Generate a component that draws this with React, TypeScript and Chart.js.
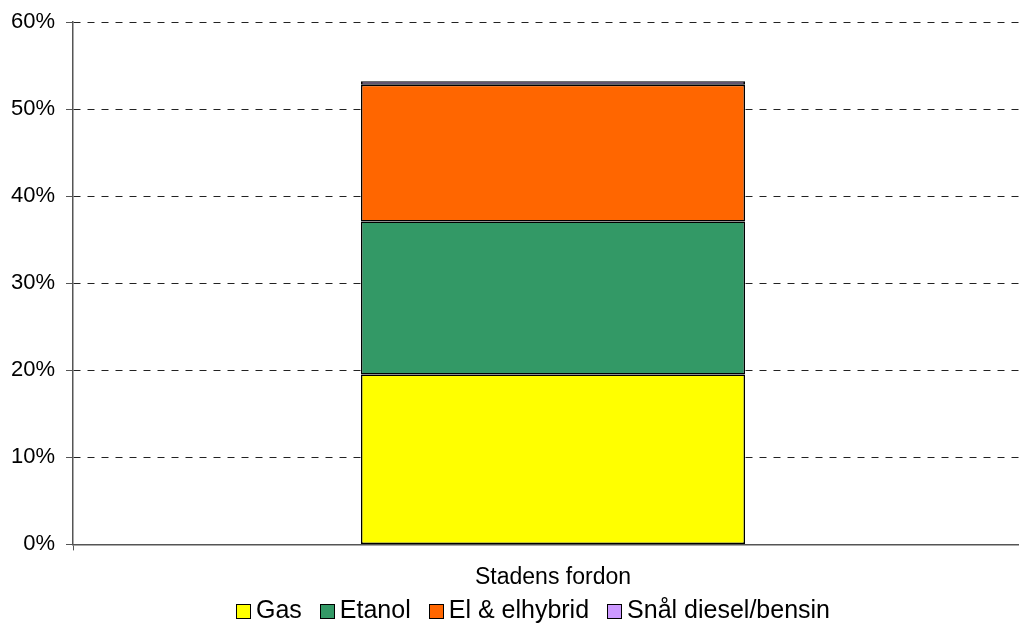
import React, { useEffect, useRef } from "react";
import { Chart, registerables } from "chart.js";

Chart.register(...registerables);

const categories = ["Stadens fordon"];
const seriesNames = ["Gas", "Etanol", "El & elhybrid", "Snål diesel/bensin"];
const gasValues = [19.5];
const etanolValues = [17.6];
const elValues = [15.7];
const snalValues = [0.4];
const yTicks = [0, 10, 20, 30, 40, 50, 60];
const colors = ["#FFFF00", "#339966", "#FF6600", "#CC99FF"];

const FONT = "'Liberation Sans', Arial, sans-serif";

const legendPlugin = {
  id: "customLegend",
  afterDraw(chart: any) {
    const ctx = chart.ctx as CanvasRenderingContext2D;
    const box = 15;
    const gapText = 5;
    const gapItem = 18;
    const y = 610;
    ctx.save();
    ctx.font = `25px ${FONT}`;
    const items = chart.data.datasets.map((ds: any) => ({
      label: ds.label as string,
      color: ds.backgroundColor as string,
      w: ctx.measureText(ds.label).width,
    }));
    const total =
      items.reduce((s: number, it: any) => s + box + gapText + it.w, 0) + gapItem * (items.length - 1);
    let x = Math.round(533 - total / 2);
    ctx.textBaseline = "middle";
    ctx.textAlign = "left";
    for (const it of items) {
      const bx = Math.round(x);
      const by = Math.round(y - box / 2 + 1);
      ctx.fillStyle = it.color;
      ctx.fillRect(bx, by, box, box);
      ctx.strokeStyle = "#000";
      ctx.lineWidth = 1;
      ctx.strokeRect(bx + 0.5, by + 0.5, box - 1, box - 1);
      ctx.fillStyle = "#000";
      ctx.fillText(it.label, x + box + gapText, y + 1);
      x += box + gapText + it.w + gapItem;
    }
    ctx.restore();
  },
};

export default function App() {
  const ref = useRef<HTMLCanvasElement | null>(null);
  useEffect(() => {
    if (!ref.current) return;
    const values = [gasValues, etanolValues, elValues, snalValues];
    const chart = new Chart(ref.current, {
      type: "bar",
      data: {
        labels: categories,
        datasets: seriesNames.map((name, i) => ({
          label: name,
          data: values[i],
          backgroundColor: colors[i],
          borderColor: "#000000",
          borderWidth: 1.5,
          borderSkipped: false,
          inflateAmount: 0,
          barPercentage: 0.4,
          categoryPercentage: 1,
        })),
      },
      plugins: [legendPlugin],
      options: {
        responsive: false,
        animation: false,
        devicePixelRatio: 1,
        layout: { padding: { top: 4, left: 0, right: 13, bottom: 26 } },
        plugins: {
          tooltip: { enabled: false },
          legend: { display: false },
        },
        scales: {
          x: {
            stacked: true,
            grid: {
              drawOnChartArea: false,
              drawTicks: true,
              tickLength: 6,
              color: "#555",
            },
            border: { color: "#555", width: 1.5 },
            ticks: {
              font: { family: FONT, size: 23 },
              color: "#000",
              padding: 13,
            },
          },
          y: {
            stacked: true,
            min: 0,
            max: 60,
            afterFit: (scale: any) => {
              scale.width = 73;
            },
            afterBuildTicks: (scale: any) => {
              scale.ticks = yTicks.map((v) => ({ value: v }));
            },
            grid: {
              color: "#222",
              lineWidth: 1,
              tickLength: 7,
              tickColor: "#555",
              tickBorderDash: [],
            },
            border: { color: "#555", width: 1.5, dash: [7, 7] },
            ticks: {
              font: { family: FONT, size: 22, lineHeight: 1 },
              color: "#000",
              padding: 11,
              callback: (v: any) => v + "%",
            },
          },
        },
      },
    });
    return () => chart.destroy();
  }, []);
  return (
    <div style={{ position: "fixed", left: 0, top: 0, width: 1019, height: 630, overflow: "hidden", background: "#fff" }}>
      <canvas ref={ref} width={1046} height={630} style={{ width: 1046, height: 630, display: "block" }} />
    </div>
  );
}
